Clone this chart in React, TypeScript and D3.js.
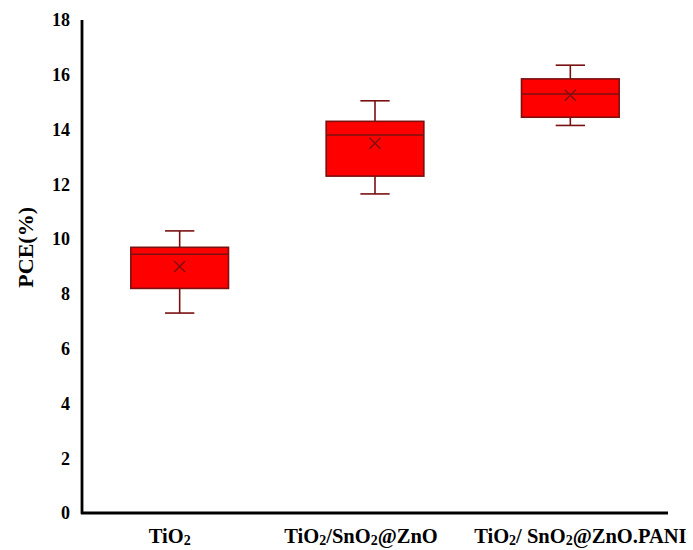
import React from "react";
import * as d3 from "d3";

// Box-plot statistics of power conversion efficiency per photoanode
const categories = ["TiO2", "TiO2/SnO2@ZnO", "TiO2/ SnO2@ZnO.PANI"];
const minValues = [7.3, 11.65, 14.15];
const q1Values = [8.2, 12.3, 14.45];
const medianValues = [9.45, 13.8, 15.3];
const q3Values = [9.7, 14.3, 15.85];
const maxValues = [10.3, 15.05, 16.35];
const meanValues = [9.0, 13.5, 15.25];
const yTicks = [0, 2, 4, 6, 8, 10, 12, 14, 16, 18];

const W = 693;
const H = 550;
const FONT = "'Liberation Serif', 'Times New Roman', serif";
const FILL = "#ff0000";
const EDGE = "#7a1010";
const SUB_SHIFT = 2;
// horizontal nudges that keep the long category labels apart
const LABEL_NUDGE = [-10, -14, 10];

// Split a label so every "2" after "O" renders as a subscript
function renderLabel(label: string) {
  const parts: React.ReactNode[] = [];
  let buf = "";
  let pendingDy = 0;
  const flush = (key: string) => {
    if (buf) {
      parts.push(
        <tspan key={key} dy={pendingDy || undefined}>
          {buf}
        </tspan>
      );
      pendingDy = 0;
    }
    buf = "";
  };
  for (let i = 0; i < label.length; i++) {
    const ch = label[i];
    if (ch === "2" && label[i - 1] === "O") {
      flush(`t${i}`);
      parts.push(
        <tspan key={`s${i}`} fontSize={14} dy={SUB_SHIFT + pendingDy}>
          2
        </tspan>
      );
      pendingDy = -SUB_SHIFT;
    } else {
      buf += ch;
    }
  }
  flush("end");
  return parts;
}

export default function App() {
  const x = d3
    .scaleBand<string>()
    .domain(categories)
    .range([82, 668])
    .paddingInner(0.5)
    .paddingOuter(0.25);
  const y = d3.scaleLinear().domain([0, 18]).range([513, 20]);
  const bw = x.bandwidth();
  const capHalf = bw * 0.15;
  const xs = 5.5;

  return (
    <svg
      width={W}
      height={H}
      style={{ position: "absolute", left: 0, top: 0, background: "#fff" }}
      fontFamily={FONT}
      fontWeight="bold"
    >
      {/* y tick labels */}
      {yTicks.map((t) => (
        <text
          key={t}
          x={70}
          y={y(t)}
          dy="0.35em"
          textAnchor="end"
          fontSize={18}
          fill="#000"
        >
          {t}
        </text>
      ))}
      {/* y axis title */}
      <text
        transform={`translate(33, ${y(9.7)}) rotate(-90)`}
        textAnchor="middle"
        fontSize={22}
        fill="#000"
      >
        PCE(%)
      </text>

      {/* boxes */}
      {categories.map((c, i) => {
        const x0 = x(c)!;
        const cx = x0 + bw / 2;
        return (
          <g key={c} stroke={EDGE} strokeWidth={1.6}>
            <line x1={cx} x2={cx} y1={y(maxValues[i])} y2={y(q3Values[i])} />
            <line x1={cx} x2={cx} y1={y(q1Values[i])} y2={y(minValues[i])} />
            <line
              x1={cx - capHalf}
              x2={cx + capHalf}
              y1={y(maxValues[i])}
              y2={y(maxValues[i])}
            />
            <line
              x1={cx - capHalf}
              x2={cx + capHalf}
              y1={y(minValues[i])}
              y2={y(minValues[i])}
            />
            <rect
              x={x0}
              y={y(q3Values[i])}
              width={bw}
              height={y(q1Values[i]) - y(q3Values[i])}
              fill={FILL}
            />
            <line
              x1={x0}
              x2={x0 + bw}
              y1={y(medianValues[i])}
              y2={y(medianValues[i])}
            />
            <path
              d={`M${cx - xs},${y(meanValues[i]) - xs}L${cx + xs},${
                y(meanValues[i]) + xs
              }M${cx - xs},${y(meanValues[i]) + xs}L${cx + xs},${
                y(meanValues[i]) - xs
              }`}
              fill="none"
              strokeWidth={1.3}
            />
          </g>
        );
      })}

      {/* axes */}
      <line x1={82} x2={82} y1={y(18)} y2={y(0) + 1} stroke="#000" strokeWidth={2.8} />
      <line x1={81} x2={668} y1={y(0)} y2={y(0)} stroke="#000" strokeWidth={2.8} />

      {/* category labels */}
      {categories.map((c, i) => (
        <text
          key={c}
          x={x(c)! + bw / 2 + LABEL_NUDGE[i]}
          y={543}
          textAnchor="middle"
          fontSize={20.5}
          fill="#000"
        >
          {renderLabel(c)}
        </text>
      ))}
    </svg>
  );
}
